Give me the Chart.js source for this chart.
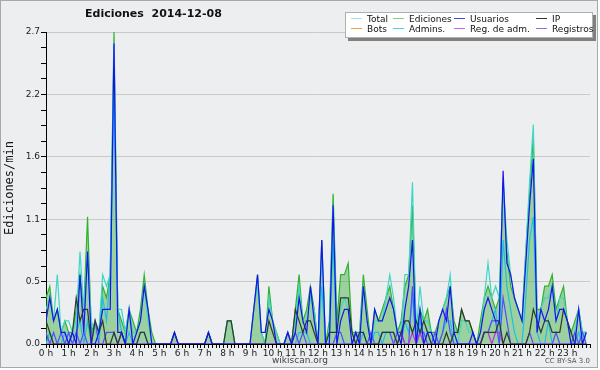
<!DOCTYPE html>
<html>
<head>
<meta charset="utf-8">
<script src="https://cdn.jsdelivr.net/npm/chart.js@4/dist/chart.umd.min.js"></script>
<style>
  body { margin: 0; background: #fff; }
  #frame { position: absolute; left: 0; top: 0; width: 596px; height: 366px; border: 1px solid #a8a8a8; background: #edeef0; }
  #wrap { position: absolute; left: 0; top: 0; width: 600px; height: 370px; }
  .txt { position: absolute; font-family: "DejaVu Sans", sans-serif; white-space: nowrap; }
  #title { left: 85px; top: 7px; font-size: 11px; font-weight: bold; color: #111; }
  #site { left: 0; width: 600px; text-align: center; top: 355px; font-size: 9px; color: #444; }
  #lic { right: 10px; top: 357px; font-size: 7px; color: #555; }
  #legend { position: absolute; left: 345px; top: 12px; width: 246px; height: 24px; background: #fff; border: 1px solid #b0b0b0; box-shadow: 3px 3px 0 #808080; font-family: "DejaVu Sans", sans-serif; font-size: 9px; color: #111; }
  .it { position: absolute; height: 11px; line-height: 11px; white-space: nowrap; }
  .sw { display: inline-block; width: 11px; height: 1px; vertical-align: middle; margin-right: 5px; position: relative; top: -1px; }
</style>
</head>
<body>
<div id="frame"></div>
<div id="wrap"><canvas id="chart" width="600" height="370"></canvas></div>
<div class="txt" id="title">Ediciones&nbsp; 2014-12-08</div>
<div id="legend"></div>
<div class="txt" id="site">wikiscan.org</div>
<div class="txt" id="lic">CC BY-SA 3.0</div>
<script>
// one value every 10 minutes, edits per minute
let ediciones = [
  0.4,0.5,0.2,0.3,0.1,0.2,  0.1,0.1,0.3,0.6,0.3,1.1,  0.1,0.2,0.1,0.5,0.4,0.6,  2.7,0.3,0.2,0.1,0.3,0.2,
  0.1,0.3,0.6,0.3,0.1,0,    0,0,0,0,0.1,0,            0,0,0,0,0,0,              0,0.1,0,0,0,0,
  0.2,0.2,0,0,0,0,          0,0.3,0.6,0.1,0,0.5,      0.2,0.1,0,0,0.1,0,        0.3,0.6,0.2,0.3,0.5,0.3,
  0,0.9,0,0.2,1.3,0.2,      0.6,0.6,0.7,0.1,0.1,0.1,  0.6,0.3,0,0.3,0.2,0.3,    0.4,0.5,0.3,0.1,0.2,0.5,
  0.6,1.2,0.1,0.3,0.2,0.3,  0.1,0.1,0.2,0.3,0.4,0.5,  0.2,0.1,0.3,0.2,0.2,0.1,  0,0.2,0.4,0.5,0.4,0.3,
  0.4,1.4,0.8,0.5,0.4,0.3,  0.2,0.8,1.3,1.8,0.3,0.3,  0.5,0.5,0.6,0.3,0.4,0.5,  0.2,0.1,0.2,0.3,0.1,0.1
];
let total = [
  0.3,0.4,0.2,0.6,0.1,0.2,  0.2,0.1,0.2,0.8,0.3,0.8,  0.2,0.1,0.1,0.6,0.5,0.6,  2.6,0.3,0.3,0.1,0.3,0.1,
  0.1,0.2,0.5,0.2,0,0,      0,0,0,0,0.1,0,            0,0,0,0,0,0,              0,0.1,0,0,0,0,
  0.2,0.2,0,0,0,0,          0,0.3,0.5,0.1,0,0.4,      0.2,0.1,0,0,0.1,0,        0.2,0.5,0.2,0.2,0.4,0.3,
  0,0.8,0,0.1,1.2,0.1,      0.3,0.4,0.3,0.1,0,0.1,    0.5,0.2,0,0.2,0.2,0.2,    0.4,0.6,0.4,0.1,0.1,0.6,
  0.6,1.4,0.1,0.5,0.2,0.2,  0.1,0,0.2,0.3,0.4,0.6,    0.1,0,0.2,0.2,0.1,0.1,    0,0.1,0.4,0.7,0.4,0.5,
  0.4,1.4,0.9,0.6,0.4,0.3,  0.2,0.8,1.4,1.9,0.2,0.3,  0.4,0.4,0.5,0.2,0.4,0.4,  0.2,0,0.1,0.3,0.1,0.1
];
let usuarios = [
  0.2,0.4,0.2,0.3,0.1,0.1,  0,0.1,0,0.6,0.1,0.8,      0,0,0.1,0.3,0.3,0.3,      2.6,0.1,0.1,0,0.3,0,
  0.1,0.2,0.5,0.3,0,0,      0,0,0,0,0.1,0,            0,0,0,0,0,0,              0,0.1,0,0,0,0,
  0,0,0,0,0,0,              0,0.3,0.6,0.1,0.1,0.3,    0.2,0,0,0,0.1,0,          0.1,0.4,0.2,0.1,0.5,0.2,
  0,0.9,0,0,1.2,0,          0.2,0.3,0.3,0,0.1,0,      0.5,0.2,0,0.3,0.2,0.2,    0.3,0.4,0.3,0.1,0,0.3,
  0.5,0.9,0,0.3,0,0.1,      0.1,0,0.2,0.3,0.2,0.5,    0.1,0,0,0,0,0.1,          0,0.1,0.3,0.4,0.3,0.2,
  0.2,1.5,0.7,0.6,0.4,0.3,  0.2,0.7,1.2,1.6,0.1,0.3,  0.2,0.3,0.5,0.2,0.3,0.3,  0.2,0,0,0.3,0,0.1
];
let ip = [
  0.2,0.1,0,0,0,0,          0,0.1,0.4,0.2,0.3,0.3,    0,0.2,0.1,0.2,0,0,        0.1,0,0.1,0,0,0,
  0,0.1,0.1,0,0,0,          0,0,0,0,0.1,0,            0,0,0,0,0,0,              0,0.1,0,0,0,0,
  0.2,0.2,0,0,0,0,          0,0,0,0,0,0.2,            0.1,0,0,0,0,0,            0.3,0.2,0.1,0.2,0.2,0.1,
  0,0,0,0.1,0.1,0.1,        0.4,0.4,0.4,0.1,0,0.1,    0.1,0,0,0,0,0.1,          0.1,0.1,0.1,0,0.1,0.2,
  0.2,0.1,0.2,0.1,0.2,0.1,  0,0,0,0,0.1,0,            0.1,0.1,0.3,0.2,0.2,0.1,  0,0,0.1,0.1,0.1,0.1,
  0.2,0,0.1,0,0,0,          0,0,0.1,0.3,0.2,0.1,      0.2,0.2,0.1,0.1,0.1,0.3,  0.2,0.1,0,0,0,0
];
let bots = [
  0,0,0,0,0,0, 0,0,0,0,0,0, 0,0,0,0,0,0, 0,0,0,0,0,0,
  0,0,0,0,0,0, 0,0,0,0,0,0, 0,0,0,0,0,0, 0,0,0,0,0,0,
  0,0,0,0,0,0, 0,0,0,0,0,0, 0,0,0,0,0,0, 0,0,0,0,0,0,
  0,0,0,0,0,0, 0,0,0,0,0,0, 0,0,0,0,0,0, 0,0,0,0,0,0,
  0,0,0,0,0,0, 0,0,0,0,0,0, 0,0,0,0,0,0, 0,0,0,0,0,0,
  0,0,0,0,0,0, 0,0,0,0,0,0, 0,0,0,0,0,0, 0,0,0,0,0,0
];
let admins = [
  0,0.1,0,0,0,0.1,          0,0,0.1,0.2,0,0.2,        0,0,0,0.4,0.2,0.6,        2.2,0.3,0.1,0,0.1,0,
  0,0.1,0.1,0,0,0,          0,0,0,0,0,0,              0,0,0,0,0,0,              0,0,0,0,0,0,
  0,0,0,0,0,0,              0,0,0,0,0,0,              0,0,0,0,0,0,              0,0.1,0.1,0.1,0,0,
  0,0.5,0,0,0.9,0,          0,0,0,0,0,0,              0.1,0,0,0.1,0.1,0,        0.1,0.1,0.1,0,0,0.2,
  0.1,0.4,0,0.2,0,0.1,      0,0,0,0.1,0.2,0.2,        0,0,0,0,0,0,              0,0,0.1,0.1,0.2,0.3,
  0,0.9,0.5,0.3,0.1,0,      0,0.4,0.9,1.1,0.1,0,      0,0.2,0,0,0,0,            0,0,0,0.1,0,0.1
];
let regAdm = [
  0,0,0,0,0,0, 0,0,0,0,0,0, 0,0,0,0,0,0, 0,0,0,0,0,0,
  0,0,0,0,0,0, 0,0,0,0,0,0, 0,0,0,0,0,0, 0,0,0,0,0,0,
  0,0,0,0,0,0, 0,0,0,0,0,0, 0,0,0,0,0,0, 0,0,0,0,0,0,
  0,0,0,0,0,0, 0,0,0,0,0,0, 0,0,0,0,0,0, 0,0,0,0,0.1,0,
  0,0.1,0,0.1,0,0, 0,0,0,0,0,0, 0,0,0,0,0,0, 0,0,0.1,0.1,0,0.1,
  0.1,0,0,0,0,0, 0,0,0,0,0,0, 0,0,0,0,0,0, 0,0,0,0,0,0
];
let registros = [
  0.1,0,0.1,0,0.1,0,        0.1,0,0.1,0,0.1,0,        0,0.2,0,0,0.1,0.1,        0.1,0,0.1,0,0,0,
  0,0,0,0,0,0,              0,0,0,0,0,0,              0,0,0,0,0,0,              0,0,0,0,0,0,
  0,0,0,0,0,0,              0,0,0,0,0,0,              0,0,0,0,0.1,0,            0.1,0,0.1,0,0,0,
  0,0,0,0,0,0.1,            0.1,0,0,0,0.1,0,          0,0,0.1,0,0,0.1,          0.1,0.1,0,0.1,0.1,0,
  0,0.5,0,0.1,0.1,0,        0,0.1,0,0.1,0.3,0.1,      0,0,0,0,0,0,              0,0,0.1,0.1,0.2,0.2,
  0,0.4,0.2,0,0,0,          0,0,0.1,0,0,0,            0,0,0,0.1,0,0,            0,0,0.1,0,0.1,0
];

let hourLabels = ['0 h','1 h','2 h','3 h','4 h','5 h','6 h','7 h','8 h','9 h','10 h','11 h',
  '12 h','13 h','14 h','15 h','16 h','17 h','18 h','19 h','20 h','21 h','22 h','23 h'];
let yTickLabels = ['0.0','0.5','1.1','1.6','2.2','2.7'];
let yMax = 2.7;

let slots = Array.from({length: 144}, (v, i) => i);
let yTicks = Array.from({length: 21}, (v, i) => i * yMax / 20);

let series = [
  {label: 'Total', data: total, color: '#3fd6c6', legend: '#a6e4dc', order: 5},
  {label: 'Ediciones', data: ediciones, color: '#2fb32f', legend: '#7fcf7f', order: 9, fill: true},
  {label: 'Usuarios', data: usuarios, color: '#1414f0', legend: '#4646d8', order: 1},
  {label: 'IP', data: ip, color: '#2d3a2d', legend: '#333333', order: 2},
  {label: 'Bots', data: bots, color: '#ff9933', legend: '#f4a040', order: 8, hidden: true},
  {label: 'Admins.', data: admins, color: '#1fbfe0', legend: '#50d0e0', order: 4},
  {label: 'Reg. de adm.', data: regAdm, color: '#c030e0', legend: '#d060e8', order: 3},
  {label: 'Registros', data: registros, color: '#5050ff', legend: '#7878f0', order: 3}
];

let datasets = series.map(s => ({
  label: s.label,
  data: s.data,
  borderColor: s.color,
  backgroundColor: s.fill ? 'rgba(60,170,60,0.45)' : s.color,
  fill: s.fill ? 'origin' : false,
  borderWidth: 1.2,
  pointRadius: 0,
  tension: 0,
  order: s.order,
  hidden: !!s.hidden
}));

// legend box, 4 columns x 2 rows
let colX = [5, 47, 108, 190];
let legend = document.getElementById('legend');
series.forEach((s, i) => {
  let d = document.createElement('div');
  d.className = 'it';
  d.style.left = colX[i % 4] + 'px';
  d.style.top = (i < 4 ? 1 : 11) + 'px';
  d.innerHTML = '<span class="sw" style="background:' + s.legend + '"></span>' + s.label;
  legend.appendChild(d);
});

new Chart(document.getElementById('chart'), {
  type: 'line',
  data: { labels: slots, datasets: datasets },
  options: {
    responsive: false,
    animation: false,
    devicePixelRatio: 1,
    layout: { padding: { top: 32, right: 10, bottom: 0, left: 0 } },
    plugins: { legend: { display: false }, tooltip: { enabled: false } },
    scales: {
      x: {
        type: 'linear',
        min: 0,
        max: 144,
        afterBuildTicks: scale => { scale.ticks = Array.from({length: 145}, (v, i) => ({value: i})); },
        afterFit: scale => { scale.height = 26; },
        border: { color: '#000', width: 1 },
        grid: { drawOnChartArea: false, tickLength: 4, tickColor: '#000' },
        ticks: {
          autoSkip: false,
          maxRotation: 0,
          padding: 0,
          color: '#222',
          font: { family: 'DejaVu Sans', size: 9 },
          callback: v => (v % 6 === 0 && v < 144) ? hourLabels[v / 6] : ''
        }
      },
      y: {
        min: 0,
        max: yMax,
        afterBuildTicks: scale => { scale.ticks = yTicks.map(v => ({value: v})); },
        afterFit: scale => { scale.width = 46; },
        border: { color: '#000', width: 1 },
        grid: {
          color: ctx => (ctx.index % 4 === 0 && ctx.index > 0) ? '#c9c9c9' : 'rgba(0,0,0,0)',
          tickColor: '#000',
          tickLength: 5
        },
        ticks: {
          padding: 1,
          color: '#222',
          font: { family: 'DejaVu Sans', size: 9 },
          callback: (v, i) => i % 4 === 0 ? yTickLabels[i / 4] : ''
        },
        title: {
          display: true,
          text: 'Ediciones/min',
          color: '#111',
          padding: { top: 3, bottom: 0 },
          font: { family: 'DejaVu Sans Mono', size: 12 }
        }
      }
    }
  }
});
</script>
</body>
</html>
